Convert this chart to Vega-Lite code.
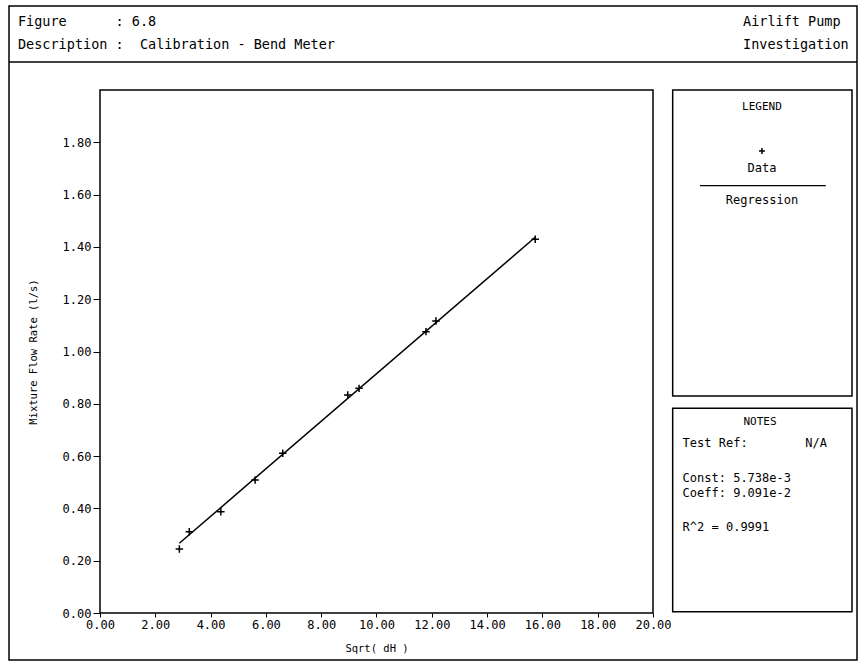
{
  "$schema": "https://vega.github.io/schema/vega-lite/v6.json",
  "width": 848,
  "height": 654,
  "autosize": {"type": "none"},
  "padding": {"left": 9, "top": 6, "right": 6, "bottom": 3},
  "background": "white",
  "config": {
    "view": {"stroke": "black", "strokeWidth": 1.5},
    "font": "DejaVu Sans Mono",
    "text": {"font": "DejaVu Sans Mono", "color": "black"},
    "axis": {"labelFont": "DejaVu Sans Mono", "titleFont": "DejaVu Sans Mono", "labelColor": "black", "titleColor": "black", "tickColor": "black", "grid": false, "domain": false}
  },
  "datasets": {
    "measured": [
      {"sqrt_dH": 2.87, "flow": 0.245},
      {"sqrt_dH": 3.23, "flow": 0.311},
      {"sqrt_dH": 4.37, "flow": 0.387},
      {"sqrt_dH": 5.61, "flow": 0.509},
      {"sqrt_dH": 6.61, "flow": 0.611},
      {"sqrt_dH": 8.96, "flow": 0.834},
      {"sqrt_dH": 9.37, "flow": 0.859},
      {"sqrt_dH": 11.79, "flow": 1.076},
      {"sqrt_dH": 12.15, "flow": 1.117},
      {"sqrt_dH": 15.74, "flow": 1.429}
    ],
    "regression": [
      {"sqrt_dH": 2.87, "flow": 0.2667},
      {"sqrt_dH": 15.74, "flow": 1.4367}
    ]
  },
  "layer": [
    {
      "data": {"name": "measured"},
      "mark": {"type": "point", "shape": "M-1,0H1M0,-1V1", "filled": false, "stroke": "black", "strokeWidth": 1.5, "size": 56, "opacity": 1},
      "encoding": {
        "x": {"field": "sqrt_dH", "type": "quantitative",
          "scale": {"domain": [-3.291, 27.378], "nice": false, "zero": false},
          "axis": {"values": [0, 2, 4, 6, 8, 10, 12, 14, 16, 18, 20], "format": ".2f", "offset": -47, "tickSize": 4, "labelPadding": 2, "labelFontSize": 12, "labelOverlap": false, "labelFlush": false,
            "title": "Sqrt( dH )", "titleFontSize": 10.5, "titleFontWeight": "normal", "titleX": 367.5, "titleY": 35, "titleBaseline": "middle", "titleAlign": "center"}},
        "y": {"field": "flow", "type": "quantitative",
          "scale": {"domain": [-0.1797, 2.3212], "nice": false, "zero": false},
          "axis": {"values": [0, 0.2, 0.4, 0.6, 0.8, 1.0, 1.2, 1.4, 1.6, 1.8], "format": ".2f", "offset": -91, "tickSize": 7, "labelPadding": 2, "labelFontSize": 12, "labelOverlap": false, "labelFlush": false,
            "title": "Mixture Flow Rate (l/s)", "titleFontSize": 10.5, "titleFontWeight": "normal", "titleX": -67, "titleY": 345.5, "titleBaseline": "middle", "titleAlign": "center", "titleAngle": -90}}
      }
    },
    {
      "data": {"name": "regression"},
      "mark": {"type": "line", "color": "black", "strokeWidth": 1.5},
      "encoding": {
        "x": {"field": "sqrt_dH", "type": "quantitative"},
        "y": {"field": "flow", "type": "quantitative"}
      }
    },
    {
      "data": {"values": [{}]},
      "mark": {"type": "rect", "fillOpacity": 0, "stroke": "black", "strokeWidth": 1.5},
      "encoding": {
        "x": {"datum": 0, "type": "quantitative"}, "x2": {"datum": 20},
        "y": {"datum": 0, "type": "quantitative"}, "y2": {"datum": 2}
      }
    },
    {
      "data": {"values": [{}]},
      "mark": {"type": "rect", "fillOpacity": 0, "stroke": "black", "strokeWidth": 1.5},
      "encoding": {
        "x": {"datum": 20.712, "type": "quantitative"}, "x2": {"datum": 27.197},
        "y": {"datum": 0.8298, "type": "quantitative"}, "y2": {"datum": 2}
      }
    },
    {
      "data": {"values": [{}]},
      "mark": {"type": "rect", "fillOpacity": 0, "stroke": "black", "strokeWidth": 1.5},
      "encoding": {
        "x": {"datum": 20.712, "type": "quantitative"}, "x2": {"datum": 27.197},
        "y": {"datum": 0.005, "type": "quantitative"}, "y2": {"datum": 0.783}
      }
    },
    {
      "data": {"values": [{}]},
      "mark": {"type": "rule", "color": "black", "strokeWidth": 1.5},
      "encoding": {
        "x": {"datum": -3.291, "type": "quantitative"}, "x2": {"datum": 27.378},
        "y": {"datum": 2.1071, "type": "quantitative"}
      }
    },
    {
      "data": {"values": [{}]},
      "mark": {"type": "rule", "color": "black", "strokeWidth": 1.3},
      "encoding": {
        "x": {"datum": 21.70, "type": "quantitative"}, "x2": {"datum": 26.25},
        "y": {"datum": 1.634, "type": "quantitative"}
      }
    },
    {
      "data": {"values": [{}]},
      "mark": {"type": "point", "shape": "M-1,0H1M0,-1V1", "filled": false, "stroke": "black", "strokeWidth": 1.5, "size": 36, "opacity": 1},
      "encoding": {
        "x": {"datum": 23.942, "type": "quantitative"},
        "y": {"datum": 1.767, "type": "quantitative"}
      }
    },
    {
      "data": {"values": [{}]},
      "mark": {"type": "text", "align": "left", "baseline": "middle", "fontSize": 13.5},
      "encoding": {
        "x": {"datum": -2.966, "type": "quantitative"},
        "y": {"datum": 2.260, "type": "quantitative"},
        "text": {"value": "Figure\u00a0\u00a0\u00a0\u00a0\u00a0\u00a0:\u00a06.8"}
      }
    },
    {
      "data": {"values": [{}]},
      "mark": {"type": "text", "align": "left", "baseline": "middle", "fontSize": 13.5},
      "encoding": {
        "x": {"datum": -2.966, "type": "quantitative"},
        "y": {"datum": 2.172, "type": "quantitative"},
        "text": {"value": "Description\u00a0:\u00a0\u00a0Calibration\u00a0-\u00a0Bend\u00a0Meter"}
      }
    },
    {
      "data": {"values": [{}]},
      "mark": {"type": "text", "align": "left", "baseline": "middle", "fontSize": 13.5},
      "encoding": {
        "x": {"datum": 23.255, "type": "quantitative"},
        "y": {"datum": 2.260, "type": "quantitative"},
        "text": {"value": "Airlift Pump"}
      }
    },
    {
      "data": {"values": [{}]},
      "mark": {"type": "text", "align": "left", "baseline": "middle", "fontSize": 13.5},
      "encoding": {
        "x": {"datum": 23.255, "type": "quantitative"},
        "y": {"datum": 2.172, "type": "quantitative"},
        "text": {"value": "Investigation"}
      }
    },
    {
      "data": {"values": [{}]},
      "mark": {"type": "text", "align": "center", "baseline": "middle", "fontSize": 11},
      "encoding": {
        "x": {"datum": 23.942, "type": "quantitative"},
        "y": {"datum": 1.936, "type": "quantitative"},
        "text": {"value": "LEGEND"}
      }
    },
    {
      "data": {"values": [{}]},
      "mark": {"type": "text", "align": "center", "baseline": "middle", "fontSize": 12},
      "encoding": {
        "x": {"datum": 23.942, "type": "quantitative"},
        "y": {"datum": 1.703, "type": "quantitative"},
        "text": {"value": "Data"}
      }
    },
    {
      "data": {"values": [{}]},
      "mark": {"type": "text", "align": "center", "baseline": "middle", "fontSize": 12},
      "encoding": {
        "x": {"datum": 23.942, "type": "quantitative"},
        "y": {"datum": 1.579, "type": "quantitative"},
        "text": {"value": "Regression"}
      }
    },
    {
      "data": {"values": [{}]},
      "mark": {"type": "text", "align": "center", "baseline": "middle", "fontSize": 11},
      "encoding": {
        "x": {"datum": 23.87, "type": "quantitative"},
        "y": {"datum": 0.7315, "type": "quantitative"},
        "text": {"value": "NOTES"}
      }
    },
    {
      "data": {"values": [{}]},
      "mark": {"type": "text", "align": "left", "baseline": "middle", "fontSize": 12},
      "encoding": {
        "x": {"datum": 21.07, "type": "quantitative"},
        "y": {"datum": 0.651, "type": "quantitative"},
        "text": {"value": "Test Ref:"}
      }
    },
    {
      "data": {"values": [{}]},
      "mark": {"type": "text", "align": "right", "baseline": "middle", "fontSize": 12},
      "encoding": {
        "x": {"datum": 26.29, "type": "quantitative"},
        "y": {"datum": 0.651, "type": "quantitative"},
        "text": {"value": "N/A"}
      }
    },
    {
      "data": {"values": [{}]},
      "mark": {"type": "text", "align": "left", "baseline": "middle", "fontSize": 12},
      "encoding": {
        "x": {"datum": 21.07, "type": "quantitative"},
        "y": {"datum": 0.5174, "type": "quantitative"},
        "text": {"value": "Const: 5.738e-3"}
      }
    },
    {
      "data": {"values": [{}]},
      "mark": {"type": "text", "align": "left", "baseline": "middle", "fontSize": 12},
      "encoding": {
        "x": {"datum": 21.07, "type": "quantitative"},
        "y": {"datum": 0.460, "type": "quantitative"},
        "text": {"value": "Coeff: 9.091e-2"}
      }
    },
    {
      "data": {"values": [{}]},
      "mark": {"type": "text", "align": "left", "baseline": "middle", "fontSize": 12},
      "encoding": {
        "x": {"datum": 21.07, "type": "quantitative"},
        "y": {"datum": 0.330, "type": "quantitative"},
        "text": {"value": "R^2 = 0.9991"}
      }
    }
  ]
}
